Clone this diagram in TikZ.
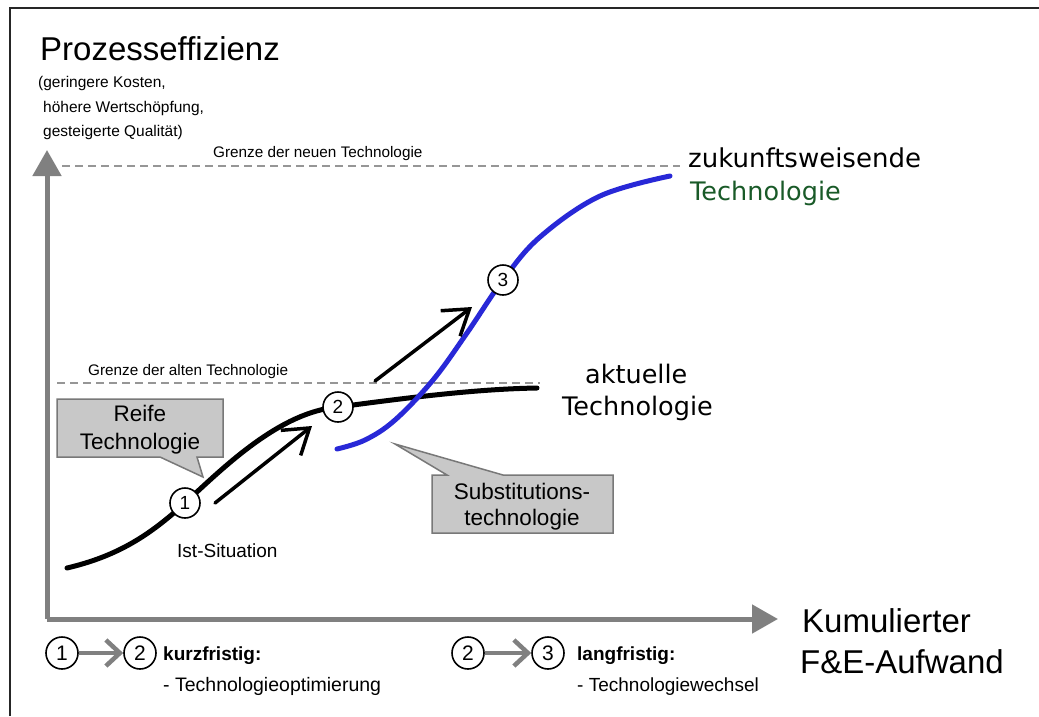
\documentclass[tikz,border=0pt]{standalone}
\usepackage{fontspec}
\setmainfont{Liberation Sans}
\newfontfamily\djvfont{DejaVu Sans}
\usetikzlibrary{arrows.meta}
\definecolor{axisgray}{RGB}{128,128,128}
\definecolor{dashgray}{RGB}{150,150,150}
\definecolor{boxfill}{RGB}{200,200,200}
\definecolor{boxdraw}{RGB}{120,120,120}
\definecolor{curveblue}{RGB}{40,40,215}
\definecolor{techgreen}{RGB}{25,90,40}
\tikzset{
  axisline/.style={axisgray,line width=5pt,-{Triangle[length=26pt,width=28pt]}},
  limitline/.style={dashgray,line width=1.3pt,dash pattern=on 8pt off 5pt},
  callout/.style={fill=boxfill,draw=boxdraw,line width=1.5pt,line join=miter},
  numcirc/.style={circle,draw=black,fill=white,line width=1.6pt,minimum size=30pt,inner sep=0pt,font=\fontsize{19}{19}\selectfont},
  legcirc/.style={circle,draw=black,fill=white,line width=1.6pt,minimum size=32pt,inner sep=0pt,font=\fontsize{21}{21}\selectfont},
  trendarrow/.style={black,line width=3.5pt,line cap=round,-{Straight Barb[length=24pt,width=32pt,line width=3.5pt]}},
  legarrow/.style={axisgray,line width=4.5pt,-{Straight Barb[length=14pt,width=26pt,line width=4.5pt]}},
  txt/.style={inner sep=0pt,anchor=base west},
}
\begin{document}
\begin{tikzpicture}[x=1pt,y=-1pt]
\useasboundingbox (0,0) rectangle (1039,716);
\fill[white] (0,0) rectangle (1039,716);
% frame
\draw[black!85,line width=2pt] (10,716) -- (10,8) -- (1039,8);

% limit lines
\coordinate (nl1) at (62,166);
\coordinate (nl2) at (680,166);
\coordinate (al1) at (57,383);
\coordinate (al2) at (540,383);
\draw[limitline] (nl1) -- (nl2);
\draw[limitline] (al1) -- (al2);

% axes
\coordinate (O) at (47,619);
\coordinate (ytip) at (47,150);
\coordinate (xtip) at (778,619);
\draw[axisline] (O) -- (ytip);
\draw[axisline] (O) -- (xtip);

% callouts
\draw[callout] (57,399) -- (223,399) -- (223,457) -- (197,457) -- (203,477) -- (160,457) -- (57,457) -- cycle;
\draw[callout] (432,475) -- (447,475) -- (395,444) -- (503,475) -- (613,475) -- (613,533) -- (432,533) -- cycle;
\node[inner sep=0pt,anchor=base,font=\fontsize{22.5}{22}\selectfont] (reife1) at (140,421) {Reife};
\node[inner sep=0pt,anchor=base,font=\fontsize{22.5}{22}\selectfont] (reife2) at (140,449) {Technologie};
\node[inner sep=0pt,anchor=base,font=\fontsize{22.5}{22}\selectfont] (sub1) at (522,499) {Substitutions-};
\node[inner sep=0pt,anchor=base,font=\fontsize{22.5}{22}\selectfont] (sub2) at (522,525) {technologie};

% current technology curve
\draw[black,line width=5pt,line cap=round] (67,568) .. controls (118,556) and (150,535) .. (185,503)
  .. controls (225,466) and (280,412) .. (338,407)
  .. controls (420,396) and (480,389) .. (537,388);
% new technology curve
\draw[curveblue,line width=5pt,line cap=round] plot[smooth,tension=0.6] coordinates {(337,449) (365,440) (395,420) (433,380) (467,333) (503,280) (540,237) (600,196) (670,176)};

% trend arrows
\coordinate (a1s) at (215,503);
\coordinate (a1e) at (312,426);
\coordinate (a2s) at (375,381);
\coordinate (a2e) at (472,307);
\draw[trendarrow] (a1s) -- (a1e);
\draw[trendarrow] (a2s) -- (a2e);

% numbered circles
\node[numcirc] (c1) at (185,503) {1};
\node[numcirc] (c2) at (338,407) {2};
\node[numcirc] (c3) at (503,280) {3};

% texts
\node[txt,font=\fontsize{33}{36}\selectfont] (ylab) at (40,60) {Prozesseffizienz};
\node[txt,font=\fontsize{15.5}{15}\selectfont] (ys1) at (38,87) {(geringere Kosten,};
\node[txt,font=\fontsize{15.5}{15}\selectfont] (ys2) at (43,112) {höhere Wertschöpfung,};
\node[txt,font=\fontsize{15.5}{15}\selectfont] (ys3) at (43,136) {gesteigerte Qualität)};
\node[txt,font=\fontsize{15.3}{15}\selectfont] (gnt) at (213,157) {Grenze der neuen Technologie};
\node[txt,font=\fontsize{15.3}{15}\selectfont] (gat) at (88,375) {Grenze der alten Technologie};
\node[txt,font=\djvfont\fontsize{26}{26}\selectfont] (zuk1) at (688,167) {zukunftsweisende};
\node[txt,font=\djvfont\fontsize{25.5}{26}\selectfont,text=techgreen] (zuk2) at (690,200) {Technologie};
\node[txt,font=\djvfont\fontsize{25.5}{26}\selectfont] (akt1) at (585,383) {aktuelle};
\node[txt,font=\djvfont\fontsize{25.5}{26}\selectfont] (akt2) at (562,415) {Technologie};
\node[txt,font=\fontsize{19}{19}\selectfont] (ist) at (177,557) {Ist-Situation};
\node[txt,font=\fontsize{33}{36}\selectfont] (xl1) at (802,632) {Kumulierter};
\node[txt,font=\fontsize{33}{36}\selectfont] (xl2) at (800,673) {F\&E-Aufwand};

% legend
\node[legcirc] (l1) at (62,653) {1};
\node[legcirc] (l2) at (140,653) {2};
\draw[legarrow] (l1) -- (l2);
\node[txt,font=\bfseries\fontsize{19}{19}\selectfont] (kurz) at (163,660) {kurzfristig:};
\node[txt,font=\fontsize{19.5}{19}\selectfont] (kurz2) at (163,691) {- Technologieoptimierung};
\node[legcirc] (r2) at (468,653) {2};
\node[legcirc] (r3) at (548,653) {3};
\draw[legarrow] (r2) -- (r3);
\node[txt,font=\bfseries\fontsize{19}{19}\selectfont] (lang) at (577,660) {langfristig:};
\node[txt,font=\fontsize{19}{19}\selectfont] (lang2) at (577,691) {- Technologiewechsel};
\end{tikzpicture}
\end{document}
